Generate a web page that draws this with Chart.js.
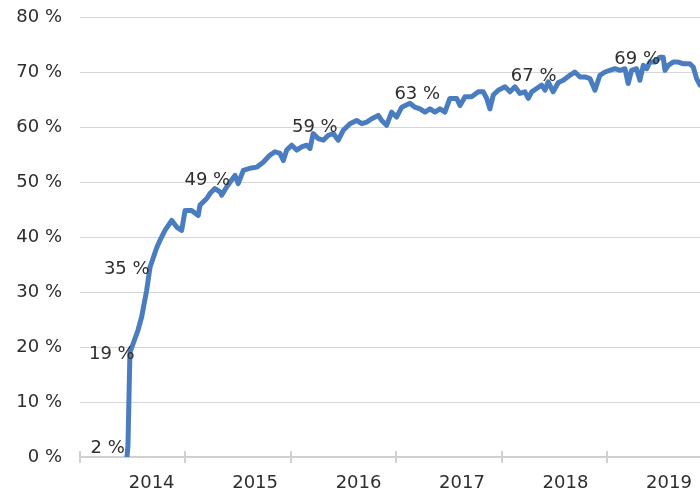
<!DOCTYPE html>
<html>
<head>
<meta charset="utf-8">
<script src="https://cdn.jsdelivr.net/npm/chart.js@4"></script>
<style>
  body { margin: 0; background: #fff; }
  #wrap { width: 700px; height: 493px; }
</style>
</head>
<body>
<div id="wrap"><canvas id="chart"></canvas></div>
<script>
// weekly share, x = week number counted from the first axis tick
const weeks = [23.6, 24.1, 25.1, 29.1, 31.0, 33.5, 35.2, 38.5, 40.2, 42.7,
  46.1, 48.6, 51.1, 52.8, 56.1, 59.4, 60.3, 63.7, 65.3, 67.8,
  70.4, 71.2, 73.7, 77.9, 79.5, 82.1, 85.4, 88.8, 92.1, 95.5,
  98.0, 100.5, 102.2, 103.9, 106.4, 108.9, 111.4, 113.9, 115.6, 117.2,
  119.7, 122.3, 124.8, 127.3, 129.8, 132.3, 135.7, 139.0, 141.6, 144.1,
  146.6, 149.9, 151.6, 154.1, 156.6, 159.1, 161.7, 165.8, 168.3, 170.9,
  173.4, 175.9, 178.4, 180.9, 183.4, 185.9, 189.3, 191.0, 193.5, 196.8,
  200.2, 202.7, 204.4, 206.0, 207.7, 210.2, 213.6, 216.1, 218.6, 221.1,
  223.6, 225.3, 227.0, 229.5, 232.0, 233.7, 235.3, 237.8, 240.4, 242.9,
  246.2, 248.7, 251.3, 253.8, 256.3, 258.8, 261.3, 263.8, 266.3, 268.8,
  271.4, 273.9, 275.5, 277.2, 279.7, 281.4, 283.1, 284.8, 286.4, 288.9,
  291.5, 293.1, 294.0, 295.6, 298.1, 300.6, 303.2, 306.5, 308.2, 309.9,
  311.6]
const shares = [0, 2, 19, 23, 25.5, 30.3, 34.5, 38, 39.4, 41.2,
  43.0, 41.8, 41.2, 44.8, 44.8, 43.9, 45.8, 47.0, 47.9, 48.8,
  48.2, 47.6, 49.1, 51.2, 49.7, 52.1, 52.5, 52.7, 53.6, 54.9,
  55.5, 55.2, 53.9, 55.8, 56.7, 55.8, 56.4, 56.7, 56.1, 58.8,
  57.9, 57.6, 58.5, 58.8, 57.6, 59.4, 60.6, 61.2, 60.6, 60.9,
  61.5, 62.1, 61.2, 60.3, 62.7, 61.8, 63.6, 64.3, 63.6, 63.3,
  62.7, 63.3, 62.7, 63.3, 62.7, 65.2, 65.2, 63.9, 65.5, 65.5,
  66.4, 66.4, 65.2, 63.3, 65.8, 66.7, 67.3, 66.4, 67.3, 66.1,
  66.4, 65.2, 66.4, 67.0, 67.6, 66.7, 68.2, 66.4, 68.1, 68.5,
  69.4, 70.0, 69.1, 69.1, 68.8, 66.7, 69.4, 70.0, 70.3, 70.6,
  70.3, 70.6, 67.9, 70.3, 70.6, 68.5, 71.2, 70.6, 71.8, 71.8,
  72.7, 72.7, 70.3, 71.2, 71.8, 71.8, 71.5, 71.5, 70.9, 68.8,
  67.6]

// x axis
const tickWeeks = [0, 53, 106, 159, 212, 265]
const labelWeeks = [36, 88, 140, 192, 244, 296]
const yearLabels = ['2014', '2015', '2016', '2017', '2018', '2019']
const weekMax = 311.6

// y axis
const yTicks = [0, 10, 20, 30, 40, 50, 60, 70, 80]

// value notes on the line
const noteWeeks = [22.5, 27.5, 35, 64, 118, 169.5, 228, 280]
const noteValues = [2, 19, 35, 49, 59, 63, 67, 69]

const font = { family: 'DejaVu Sans', size: 18 }
const textColor = '#2e2e2e'
const axisColor = '#d0d0d0'

// where each note sits relative to its point (left of it / above it) and a small vertical nudge
const notePlace = ['left', 'left', 'left', 'above', 'above', 'above', 'above', 'above']
const noteNudge = [7, 6, 9, -3, -0.5, -12, -8, -14]

const tickMarks = {
    id: 'tickMarks',
    beforeDatasetsDraw(chart) {
        const ctx = chart.ctx
        const xs = chart.scales.x
        const y0 = chart.chartArea.bottom
        ctx.save()
        ctx.strokeStyle = axisColor
        ctx.lineWidth = 2
        tickWeeks.forEach(w => {
            const x = Math.round(xs.getPixelForValue(w))
            ctx.beginPath()
            ctx.moveTo(x, y0 - 6)
            ctx.lineTo(x, y0 + 6)
            ctx.stroke()
        })
        ctx.restore()
    }
}

const notes = {
    id: 'notes',
    afterDatasetsDraw(chart) {
        const ctx = chart.ctx
        const xs = chart.scales.x
        const ys = chart.scales.y
        ctx.save()
        ctx.font = font.size + 'px "' + font.family + '"'
        ctx.fillStyle = textColor
        ctx.textBaseline = 'alphabetic'
        noteValues.forEach((v, i) => {
            const x = xs.getPixelForValue(noteWeeks[i])
            const y = ys.getPixelForValue(v) + noteNudge[i]
            ctx.textAlign = notePlace[i] === 'left' ? 'right' : 'center'
            ctx.fillText(v + ' %', x, y)
        })
        ctx.restore()
    }
}

const ctx = document.getElementById('chart').getContext('2d')
const chart = new Chart(ctx, {
    type: 'line',
    data: {
        datasets: [{
            data: weeks.map((w, i) => ({ x: w, y: shares[i] })),
            borderColor: '#4a7dbf',
            borderWidth: 5,
            borderJoinStyle: 'round',
            borderCapStyle: 'round',
            pointRadius: 0,
            tension: 0,
            fill: false
        }]
    },
    options: {
        responsive: true,
        maintainAspectRatio: false,
        animation: false,
        layout: { padding: { top: 17, right: 0, bottom: 0, left: 0 } },
        plugins: {
            legend: { display: false },
            tooltip: { enabled: false }
        },
        scales: {
            x: {
                type: 'linear',
                min: 0,
                max: weekMax,
                afterBuildTicks: scale => {
                    scale.ticks = labelWeeks.map(v => ({ value: v }))
                },
                afterFit: scale => { scale.height = 36 },
                // invisible tick marks only push the labels down
                grid: { display: true, drawOnChartArea: false, drawTicks: true, tickLength: 16, tickColor: 'rgba(0,0,0,0)' },
                border: { display: true, color: axisColor, width: 2 },
                ticks: {
                    autoSkip: false,
                    maxRotation: 0,
                    padding: 0,
                    color: textColor,
                    font: font,
                    callback: (value, index) => yearLabels[index]
                }
            },
            y: {
                min: 0,
                max: 80,
                afterBuildTicks: scale => {
                    scale.ticks = yTicks.map(v => ({ value: v }))
                },
                afterFit: scale => { scale.width = 80 },
                grid: { color: '#d6d6d6', lineWidth: 1, drawTicks: true, tickLength: 18, tickColor: 'rgba(0,0,0,0)' },
                border: { display: false },
                ticks: {
                    padding: 0,
                    color: textColor,
                    font: font,
                    callback: value => value + ' %'
                }
            }
        }
    },
    plugins: [tickMarks, notes]
})
</script>
</body>
</html>
